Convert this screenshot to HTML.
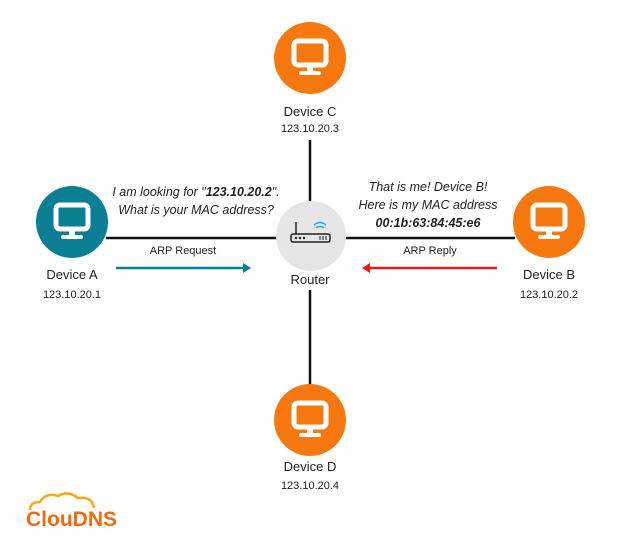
<!DOCTYPE html>
<html><head><style>
body{margin:0;width:636px;height:556px;background:#fff;position:relative;font-family:"Liberation Sans",sans-serif;overflow:hidden}
.t{position:absolute;text-align:center;color:#222;white-space:nowrap;transform:translateX(-50%)}
</style></head><body>
<svg width="636" height="556" style="position:absolute;left:0;top:0">
<defs>
<g id="mon"><rect x="-16" y="-17" width="32" height="24" rx="4" fill="none" stroke="#fff" stroke-width="5"/><rect x="-3" y="8" width="6" height="6" fill="#fff"/><rect x="-11" y="13" width="22" height="4" rx="2" fill="#fff"/></g>
</defs>
<line x1="310" y1="140" x2="310" y2="204" stroke="#111" stroke-width="2.5"/>
<line x1="310" y1="290" x2="310" y2="386" stroke="#111" stroke-width="2.5"/>
<line x1="106" y1="238" x2="278" y2="238" stroke="#111" stroke-width="2.5"/>
<line x1="344" y1="238" x2="515" y2="238" stroke="#111" stroke-width="2.5"/>
<circle cx="72" cy="222" r="36" fill="#0a7f93"/><use href="#mon" x="72" y="222"/>
<circle cx="310" cy="58" r="36" fill="#f7780f"/><use href="#mon" x="310" y="58"/>
<circle cx="549" cy="222" r="36" fill="#f7780f"/><use href="#mon" x="549" y="222"/>
<circle cx="310" cy="420" r="36" fill="#f7780f"/><use href="#mon" x="310" y="420"/>
<circle cx="311" cy="236" r="35" fill="#e6e6e6"/>
<rect x="291" y="234" width="39" height="8" rx="2" fill="none" stroke="#222" stroke-width="1.5"/>
<line x1="296" y1="222" x2="296" y2="234" stroke="#222" stroke-width="1.5"/>
<circle cx="296" cy="238" r="1.2" fill="#222"/><circle cx="300" cy="238" r="1.2" fill="#222"/><circle cx="304" cy="238" r="1.2" fill="#222"/>
<line x1="320" y1="236" x2="320" y2="240" stroke="#222"/><line x1="323" y1="236" x2="323" y2="240" stroke="#222"/><line x1="326" y1="236" x2="326" y2="240" stroke="#222"/>
<path d="M316 228 q4 -3 8 0 M314 225 q6 -5 12 0" stroke="#29a8e0" fill="none" stroke-width="1.5"/>
<line x1="116" y1="268" x2="244" y2="268" stroke="#0a7f93" stroke-width="2.5"/><path d="M251 268 L243 263 L243 273Z" fill="#0a7f93"/>
<line x1="497" y1="268" x2="369" y2="268" stroke="#e8191c" stroke-width="2.5"/><path d="M362 268 L370 263 L370 273Z" fill="#e8191c"/>
<path d="M30 510 q0 -8 10 -8 q6 -10 18 -6 q10 -6 20 2 q14 -2 16 10" fill="none" stroke="#f7a81b" stroke-width="2.5"/>
</svg>
<div class="t" style="left:310px;top:104px;font-size:13px">Device C</div>
<div class="t" style="left:310px;top:123px;font-size:11px">123.10.20.3</div>
<div class="t" style="left:72px;top:267px;font-size:13px">Device A</div>
<div class="t" style="left:72px;top:289px;font-size:11px">123.10.20.1</div>
<div class="t" style="left:549px;top:267px;font-size:13px">Device B</div>
<div class="t" style="left:549px;top:289px;font-size:11px">123.10.20.2</div>
<div class="t" style="left:310px;top:459px;font-size:13px">Device D</div>
<div class="t" style="left:310px;top:480px;font-size:11px">123.10.20.4</div>
<div class="t" style="left:310px;top:272px;font-size:13px">Router</div>
<div class="t" style="left:183px;top:245px;font-size:11px">ARP Request</div>
<div class="t" style="left:430px;top:245px;font-size:11px">ARP Reply</div>
<div class="t" style="left:196px;top:183px;font-size:12.5px;font-style:italic;line-height:18px">I am looking for "<b>123.10.20.2</b>".<br>What is your MAC address?</div>
<div class="t" style="left:428px;top:178px;font-size:12.5px;font-style:italic;line-height:18px">That is me! Device B!<br>Here is my MAC address<br><b>00:1b:63:84:45:e6</b></div>
<div style="position:absolute;left:26px;top:508px;font-size:21px;font-weight:bold;color:#f26b0f">ClouDNS</div>
</body></html>
